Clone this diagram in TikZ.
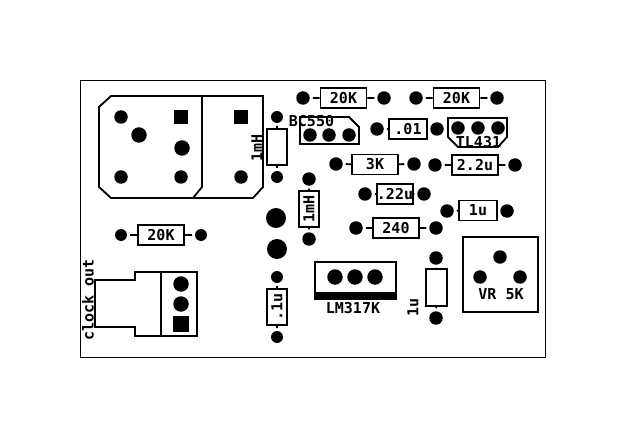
\documentclass[tikz,border=0pt]{standalone}
\usepackage{fontspec}
\setmainfont{DejaVu Sans Mono}
\newcommand{\padpt}[3][]{\node[circle,fill,inner sep=0pt,outer sep=3pt,minimum size=13.5pt,#1] at (#2) (#3) {}}
\newcommand{\padsq}[3][]{\node[rectangle,fill,inner sep=0pt,minimum size=14pt,#1] at (#2) (#3) {}}
\newcommand{\respt}[4][]{\node[rectangle,draw,line width=1.8pt,inner sep=0pt,minimum width=46pt,minimum height=20pt,font=\fontsize{15}{15}\bfseries\selectfont,#1] at (#2) (#3) {\makebox[0pt]{#4}}}
\tikzset{outline/.style={line width=1.8pt},lead/.style={line width=1.8pt},
  silk/.style={inner sep=0pt,font=\fontsize{15}{15}\bfseries\selectfont}}

\begin{document}
\begin{tikzpicture}[x=1pt,y=-1pt]
  \useasboundingbox (0,0) rectangle (625,436);
  \draw[line width=1pt] (80.5,80.5) rectangle (545,357);
  % relay
  \draw[outline] (99,107) -- (111,96) -- (263,96) -- (263,187) -- (253,198) -- (111,198) -- (99,187) -- cycle;
  \draw[outline] (202,96) -- (202,187) -- (193,198);
  \padpt{121,117}{k1};
  \padsq{181,117}{k2};
  \padpt[minimum size=15.5pt]{139,135}{k3};
  \padpt[minimum size=15.5pt]{182,148}{k4};
  \padpt{121,177}{k5};
  \padpt{181,177}{k6};
  \padsq{241,117}{k7};
  \padpt{241,177}{k8};
  % parts along the top
  \padpt[minimum size=12pt]{277,117}{l1a};
  \padpt[minimum size=12pt]{277,177}{l1b};
  \respt[rotate=90,minimum width=36pt]{277,147}{l1}{};
  \node[silk,rotate=90] at (257,148) (l1t) {1mH};
  \padpt{303,98}{r1a};
  \padpt{384,98}{r1b};
  \respt{343.5,98}{r1}{20K};
  \padpt{416,98}{r2a};
  \padpt{497,98}{r2b};
  \respt{456.5,98}{r2}{20K};
  \node[silk] at (311.5,121.5) (q1t) {BC550};
  \draw[outline] (300,117) -- (349,117) -- (359,127) -- (359,144) -- (300,144) -- cycle;
  \padpt{310,135}{q1a};
  \padpt{329,135}{q1b};
  \padpt{349,135}{q1c};
  \padpt{377,129}{c1a};
  \padpt{437,129}{c1b};
  \respt[minimum width=38pt]{408,129}{c1}{.01};
  \draw[outline] (448,118) -- (507,118) -- (507,137) -- (498,147) -- (458,147) -- (448,137) -- cycle;
  \padpt{458,128}{u1a};
  \padpt{478,128}{u1b};
  \padpt{498,128}{u1c};
  \node[silk] at (478.5,142) (u1t) {TL431};
  \padpt{336,164}{r3a};
  \padpt{414,164}{r3b};
  \respt{375,164.5}{r3}{3K};
  \padpt{435,165}{c2a};
  \padpt{515,165}{c2b};
  \respt{475,165}{c2}{2.2u};
  \padpt{365,194}{c3a};
  \padpt{424,194}{c3b};
  \respt[minimum width=36pt]{395,194}{c3}{.22u};
  \padpt{447,211}{c4a};
  \padpt{507,211}{c4b};
  \respt[minimum width=38pt]{478,210.5}{c4}{1u};
  \padpt{356,228}{r4a};
  \padpt{436,228}{r4b};
  \respt{396,228}{r4}{240};
  \padpt{309,179}{l2a};
  \padpt{309,239}{l2b};
  \respt[rotate=90,minimum width=36pt]{309,209}{l2}{1mH};
  \padpt[minimum size=20pt]{276,218}{t1};
  \padpt[minimum size=20pt]{277,249}{t2};
  \padpt[minimum size=12pt]{121,235}{r5a};
  \padpt[minimum size=12pt]{201,235}{r5b};
  \respt{161,235}{r5}{20K};
  \padpt[minimum size=12pt]{277,277}{c5a};
  \padpt[minimum size=12pt]{277,337}{c5b};
  \respt[rotate=90,minimum width=36pt]{277,307}{c5}{.1u};
  % output connector
  \draw[outline] (95,280) -- (135,280) -- (135,272) -- (197,272) -- (197,336) -- (135,336) -- (135,327) -- (95,327) -- cycle;
  \draw[outline] (161,272) -- (161,336);
  \padpt[minimum size=15.5pt]{181,284}{j1};
  \padpt[minimum size=15.5pt]{181,304}{j2};
  \padsq[minimum size=16pt]{181,324}{j3};
  \node[silk,rotate=90] at (88,300) (j1t) {clock out};
  % regulator
  \draw[outline] (315,262) rectangle (396,299);
  \fill (315,292) rectangle (396,299);
  \padpt[minimum size=15.5pt]{335,277}{v1};
  \padpt[minimum size=15.5pt]{355,277}{v2};
  \padpt[minimum size=15.5pt]{375,277}{v3};
  \node[silk] at (353,308) (v1t) {LM317K};
  \padpt{436,258}{c6a};
  \padpt{436,318}{c6b};
  \respt[rotate=90,minimum width=37pt,minimum height=21pt]{436.5,287.5}{c6}{};
  \node[silk,rotate=90] at (413,307) (c6t) {1u};
  % trimmer
  \draw[outline] (463,237) rectangle (538,312);
  \padpt{500,257}{w1};
  \padpt{480,277}{w2};
  \padpt{520,277}{w3};
  \node[silk] at (501,294) (w1t) {VR 5K};
  \draw[lead]
        (l1a) -- (l1)
        (l1)  -- (l1b)
        (r1a) -- (r1)
        (r1)  -- (r1b)
        (r2a) -- (r2)
        (r2)  -- (r2b)
        (c1a) -- (c1)
        (c1)  -- (c1b)
        (r3a) -- (r3)
        (r3)  -- (r3b)
        (c2a) -- (c2)
        (c2)  -- (c2b)
        (c3a) -- (c3)
        (c3)  -- (c3b)
        (c4a) -- (c4)
        (c4)  -- (c4b)
        (r4a) -- (r4)
        (r4)  -- (r4b)
        (l2a) -- (l2)
        (l2)  -- (l2b)
        (r5a) -- (r5)
        (r5)  -- (r5b)
        (c5a) -- (c5)
        (c5)  -- (c5b)
        (c6a) -- (c6)
        (c6)  -- (c6b);
\end{tikzpicture}
\end{document}
